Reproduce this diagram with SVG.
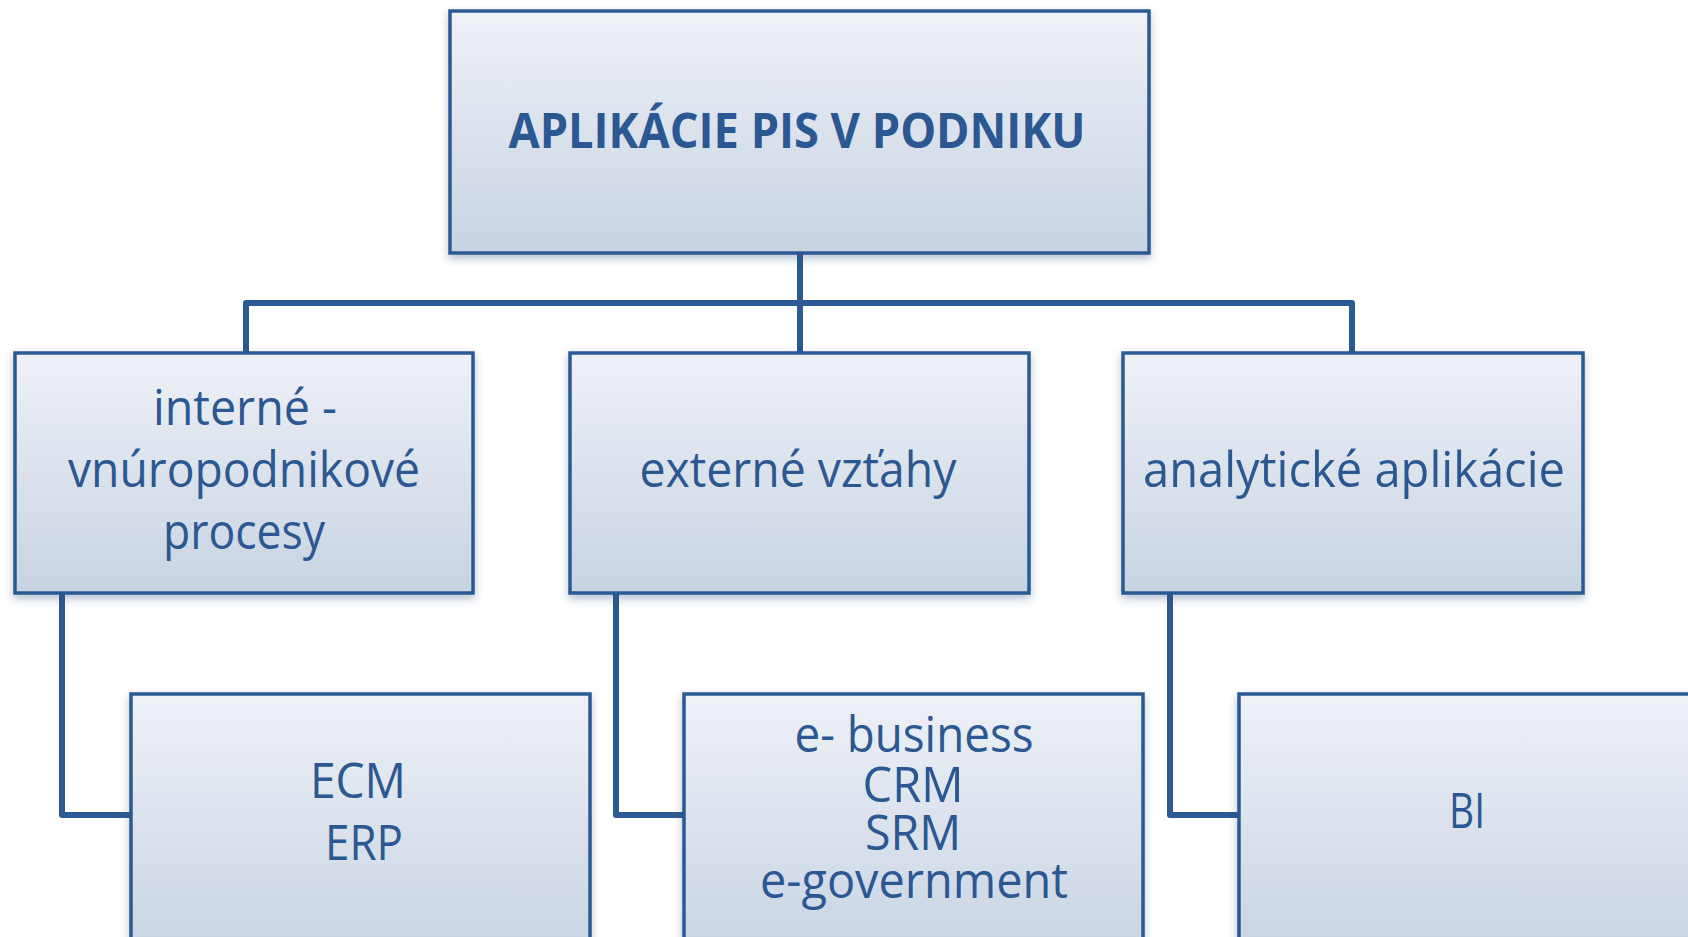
<svg xmlns="http://www.w3.org/2000/svg" width="1688" height="937" viewBox="0 0 1688 937">
<defs>
<linearGradient id="boxGrad" x1="0" y1="0" x2="0" y2="1">
<stop offset="0" stop-color="#eef1f6"/>
<stop offset="1" stop-color="#c8d3e2"/>
</linearGradient>
<filter id="shadow" x="-5%" y="-5%" width="110%" height="120%">
<feDropShadow dx="0" dy="4" stdDeviation="4" flood-color="#2a4a78" flood-opacity="0.35"/>
</filter>
<style>
.box{fill:url(#boxGrad);stroke:#2c5a94;stroke-width:3.5;filter:url(#shadow)}
.conn{fill:none;stroke:#2c5a94;stroke-width:6;stroke-linejoin:round}
.t{font-family:"Open Sans","Noto Sans","Liberation Sans",sans-serif;font-size:49px;fill:#2b5893;text-anchor:middle}
.b{font-weight:bold}
</style>
</defs>
<rect width="1688" height="937" fill="#ffffff"/>
<g id="connectors">
<path class="conn" d="M800 253 V353"/>
<path class="conn" d="M246 353 V303 H1352 V353"/>
<path class="conn" d="M62 593 V815 H131"/>
<path class="conn" d="M616 594 V815 H684"/>
<path class="conn" d="M1170 593 V815 H1239"/>
</g>
<g id="root">
<rect class="box" x="450" y="11" width="699" height="242"/>
<text class="t b" x="797" y="148" textLength="577" lengthAdjust="spacingAndGlyphs">APLIKÁCIE PIS V PODNIKU</text>
</g>
<g id="interne">
<rect class="box" x="15" y="353" width="458" height="240"/>
<text class="t" x="245" y="425" textLength="184" lengthAdjust="spacingAndGlyphs">interné -</text>
<text class="t" x="244" y="487" textLength="352" lengthAdjust="spacingAndGlyphs">vnúropodnikové</text>
<text class="t" x="244" y="549" textLength="162" lengthAdjust="spacingAndGlyphs">procesy</text>
</g>
<g id="externe">
<rect class="box" x="570" y="353" width="459" height="240"/>
<text class="t" x="798" y="487" textLength="317" lengthAdjust="spacingAndGlyphs">externé vzťahy</text>
</g>
<g id="analyticke">
<rect class="box" x="1123" y="353" width="460" height="240"/>
<text class="t" x="1354" y="487" textLength="422" lengthAdjust="spacingAndGlyphs">analytické aplikácie</text>
</g>
<g id="ecm-erp">
<rect class="box" x="131" y="694" width="459" height="262"/>
<text class="t" x="358" y="798" textLength="96" lengthAdjust="spacingAndGlyphs">ECM</text>
<text class="t" x="364" y="860" textLength="78" lengthAdjust="spacingAndGlyphs">ERP</text>
</g>
<g id="ebusiness">
<rect class="box" x="684" y="694" width="459" height="262"/>
<text class="t" x="914" y="752" textLength="239" lengthAdjust="spacingAndGlyphs">e- business</text>
<text class="t" x="913" y="802" textLength="101" lengthAdjust="spacingAndGlyphs">CRM</text>
<text class="t" x="913" y="850" textLength="96" lengthAdjust="spacingAndGlyphs">SRM</text>
<text class="t" x="914" y="898" textLength="308" lengthAdjust="spacingAndGlyphs">e-government</text>
</g>
<g id="bi">
<rect class="box" x="1239" y="694" width="459" height="262"/>
<text class="t" x="1467" y="828" textLength="36" lengthAdjust="spacingAndGlyphs">BI</text>
</g>
</svg>
